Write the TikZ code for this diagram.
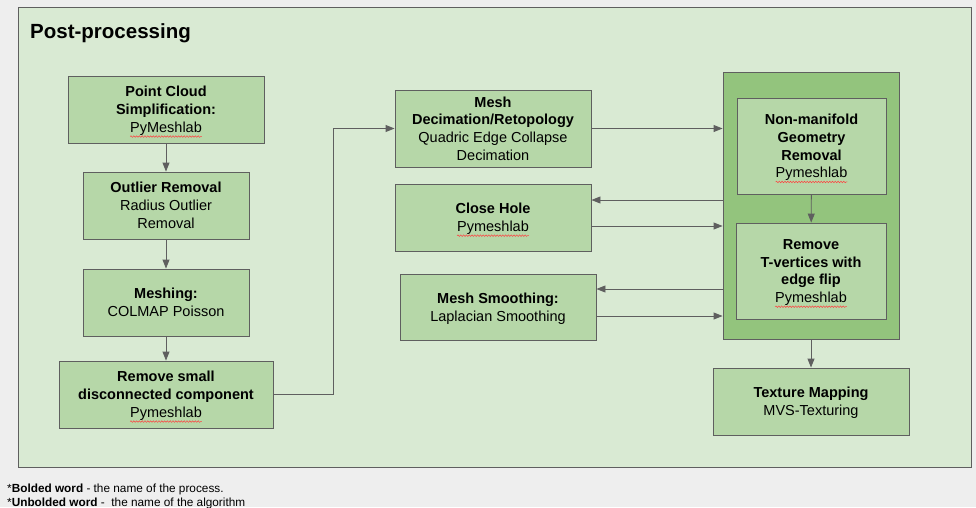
\documentclass[tikz,border=0pt]{standalone}
\usepackage{fontspec}
\setmainfont{Liberation Sans}
\usetikzlibrary{positioning,arrows.meta,decorations.pathmorphing}

\definecolor{bggrey}{HTML}{EEEEEE}
\definecolor{panelgreen}{HTML}{D9EAD3}
\definecolor{boxgreen}{HTML}{B6D7A8}
\definecolor{groupgreen}{HTML}{93C47D}
\definecolor{linegrey}{HTML}{5F5F5F}

% 拼写检查波浪线
\newcommand{\squig}[1]{\sbox0{#1}\rlap{\tikz[overlay, baseline=0pt]\draw[red!75, line width=0.5pt, decorate, decoration={snake, amplitude=0.8pt, segment length=2.8pt}] (0pt,-4pt) -- (\wd0,-4pt);}\usebox0}

\begin{document}
\begin{tikzpicture}[x=1pt, y=-1pt,
  >={Triangle[length=9pt,width=7pt]},
  procbox/.style={draw=linegrey, fill=boxgreen, line width=0.9pt, align=center, inner sep=2pt, font=\fontsize{14.5}{17.8}\selectfont, text depth=-0.4pt},
  groupbox/.style={draw=linegrey, fill=groupgreen, line width=0.9pt},
  flow/.style={draw=linegrey, line width=0.9pt, ->}]
\useasboundingbox (0,0) rectangle (976,507);
\fill[bggrey] (0,0) rectangle (976,507);

% 外框
\draw[draw=linegrey, fill=panelgreen, line width=0.9pt] (18,7) rectangle (971,467);
\node[anchor=base west, inner sep=0pt, font=\fontsize{20.5}{24}\selectfont\bfseries] (title) at (30,38) {Post-processing};

% 左列
\node[procbox, minimum width=196pt, minimum height=67pt] (pcs) at (166,109.5) {\textbf{Point Cloud}\\\textbf{Simplification:}\\\squig{PyMeshlab}};
\node[procbox, minimum width=166pt, minimum height=67pt] (outlier) at (166,205.5) {\textbf{Outlier Removal}\\Radius Outlier\\Removal};
\node[procbox, minimum width=166pt, minimum height=67pt] (meshing) at (166,302.5) {\textbf{Meshing:}\\COLMAP Poisson};
\node[procbox, minimum width=214pt, minimum height=67pt] (rmsmall) at (166,394.5) {\textbf{Remove small}\\\textbf{disconnected component}\\\squig{Pymeshlab}};

% 中列
\node[procbox, minimum width=196pt, minimum height=77pt] (decim) at (493,128.5) {\textbf{Mesh}\\\textbf{Decimation/Retopology}\\Quadric Edge Collapse\\Decimation};
\node[procbox, minimum width=196pt, minimum height=67pt] (closehole) at (493,217.5) {\textbf{Close Hole}\\\squig{Pymeshlab}};
\node[procbox, minimum width=196pt, minimum height=66pt] (smooth) at (498,307) {\textbf{Mesh Smoothing:}\\Laplacian Smoothing};

% 右列
\node[groupbox, minimum width=176pt, minimum height=267pt] (grp) at (811,205.5) {};
\node[procbox, minimum width=149pt, minimum height=96pt] (nonman) at (811.5,146) {\textbf{Non-manifold}\\\textbf{Geometry}\\\textbf{Removal}\\\squig{Pymeshlab}};
\node[procbox, minimum width=150pt, minimum height=96pt] (tvert) at (811,271) {\textbf{Remove}\\\textbf{T-vertices with}\\\textbf{edge flip}\\\squig{Pymeshlab}};
\node[procbox, minimum width=196pt, minimum height=67pt] (texture) at (811,401.5) {\textbf{Texture Mapping}\\MVS-Texturing};

% 连接
\draw[flow] (pcs) -- (outlier);
\draw[flow] (outlier) -- (meshing);
\draw[flow] (meshing) -- (rmsmall);
\draw[flow] (rmsmall.east) -- ++(60,0) |- (decim.west);
\draw[flow] (decim.east) -- (decim.east -| grp.west);
\draw[flow] (grp.west |- 0,200) -- (closehole.east |- 0,200);
\draw[flow] (closehole.east |- 0,226) -- (grp.west |- 0,226);
\draw[flow] (grp.west |- 0,289) -- (smooth.east |- 0,289);
\draw[flow] (smooth.east |- 0,316) -- (grp.west |- 0,316);
\draw[flow] (nonman) -- (tvert);
\draw[flow] (grp) -- (texture);

% 注释
\node[anchor=base west, inner sep=0pt, font=\fontsize{11.8}{14}\selectfont] (note1) at (7,492) {*\textbf{Bolded word} - the name of the process.};
\node[anchor=base west, inner sep=0pt, font=\fontsize{11.8}{14}\selectfont] (note2) at (7,506) {*\textbf{Unbolded word} -~ the name of the algorithm};
\end{tikzpicture}
\end{document}
